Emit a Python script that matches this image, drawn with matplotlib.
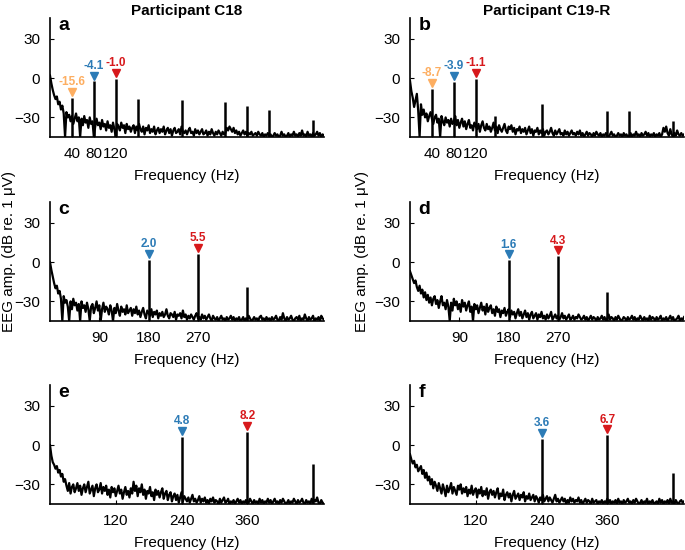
import matplotlib
matplotlib.use("Agg")
import matplotlib.pyplot as plt
import numpy as np

plt.rcParams['font.family'] = ['Liberation Sans', 'DejaVu Sans']

# frequency grid of the noise spectra (Hz), 2.5 Hz bins
freq = np.arange(0, 502.5, 2.5)

# noise floor (dB re. 1 uV), 20 bins per 50 Hz row
noise_a = [2, -4, -9, -13, -16, -14, -20, -18, -24, -21, -27, -45, -26, -30, -28, -33, -29, -35, -31, -27,
           -33, -30, -45, -31, -36, -29, -34, -32, -38, -30, -35, -33, -45, -37, -31, -36, -34, -39, -32, -37,
           -35, -40, -33, -38, -36, -41, -34, -39, -45, -35, -37, -40, -34, -38, -36, -42, -35, -39, -37, -41,
           -38, -36, -42, -37, -40, -35, -39, -41, -37, -43, -38, -40, -36, -42, -39, -41, -37, -43, -40, -38,
           -42, -39, -41, -37, -43, -40, -38, -42, -39, -44, -40, -38, -42, -41, -39, -43, -37, -41, -42, -40,
           -43, -40, -38, -42, -41, -44, -39, -42, -40, -43, -41, -39, -43, -42, -40, -44, -41, -43, -39, -42,
           -44, -41, -43, -40, -42, -44, -41, -43, -42, -38, -40, -37, -39, -41, -38, -42, -40, -43, -41, -44,
           -42, -40, -43, -41, -44, -42, -43, -41, -44, -43, -42, -44, -41, -43, -44, -42, -45, -43, -44, -42,
           -44, -43, -45, -44, -42, -44, -43, -45, -44, -41, -44, -43, -45, -44, -42, -45, -43, -44, -41, -44,
           -43, -45, -42, -44, -40, -44, -43, -45, -41, -44, -43, -45, -42, -44, -43, -41, -44, -42, -45, -43,
           -44]
noise_b = [-2, -10, -15, -22, -17, -12, -25, -45, -20, -28, -24, -30, -27, -33, -29, -26, -31, -35, -30, -28,
           -34, -31, -45, -29, -33, -36, -30, -34, -32, -37, -31, -35, -33, -29, -36, -32, -38, -34, -31, -37,
           -33, -39, -35, -32, -38, -36, -40, -34, -37, -39, -35, -41, -36, -33, -38, -40, -35, -39, -37, -41,
           -38, -34, -40, -37, -42, -36, -39, -41, -38, -35, -40, -42, -37, -39, -36, -41, -38, -43, -39, -40,
           -37, -42, -39, -41, -38, -43, -40, -37, -42, -39, -44, -40, -41, -38, -43, -40, -42, -39, -44, -41,
           -40, -43, -41, -38, -42, -44, -40, -43, -41, -39, -43, -42, -44, -40, -43, -41, -44, -42, -40, -43,
           -42, -44, -41, -43, -40, -44, -42, -45, -43, -41, -44, -42, -43, -45, -42, -44, -41, -43, -44, -42,
           -45, -43, -44, -42, -44, -45, -43, -41, -44, -43, -45, -44, -42, -44, -43, -45, -42, -44, -43, -45,
           -44, -42, -45, -43, -44, -41, -44, -43, -45, -42, -44, -43, -41, -44, -42, -45, -43, -44, -42, -45,
           -43, -44, -42, -45, -43, -38, -41, -37, -42, -44, -39, -43, -45, -42, -44, -40, -43, -44, -42, -44,
           -43]
noise_c = [0, -6, -11, -16, -20, -18, -24, -22, -28, -45, -26, -31, -29, -34, -45, -30, -36, -28, -33, -31,
           -37, -32, -45, -30, -35, -33, -38, -31, -36, -45, -34, -32, -39, -35, -30, -37, -33, -45, -36, -31,
           -38, -34, -36, -40, -33, -37, -45, -35, -39, -32, -37, -41, -34, -38, -36, -40, -33, -39, -37, -35,
           -41, -36, -39, -34, -40, -37, -42, -38, -35, -40, -43, -37, -39, -41, -36, -42, -38, -40, -37, -43,
           -39, -41, -38, -42, -40, -36, -41, -43, -39, -40, -42, -38, -44, -40, -41, -39, -43, -37, -42, -40,
           -44, -41, -43, -40, -42, -44, -41, -39, -43, -42, -44, -40, -43, -41, -44, -42, -40, -43, -45, -41,
           -43, -44, -42, -45, -43, -41, -44, -43, -45, -42, -44, -43, -41, -44, -42, -45, -43, -44, -42, -45,
           -44, -42, -45, -43, -44, -41, -43, -45, -44, -42, -44, -43, -45, -42, -41, -44, -43, -45, -42, -44,
           -43, -45, -42, -44, -43, -41, -44, -45, -42, -44, -39, -43, -45, -42, -44, -43, -41, -44, -45, -43,
           -42, -44, -41, -45, -43, -44, -40, -43, -45, -42, -44, -43, -41, -45, -43, -44, -42, -45, -41, -43,
           -44]
noise_d = [-7, -10, -13, -16, -14, -19, -22, -18, -24, -21, -27, -23, -29, -25, -31, -27, -33, -28, -26, -32,
           -29, -35, -30, -26, -33, -31, -36, -29, -34, -45, -31, -37, -28, -33, -30, -36, -32, -38, -29, -34,
           -31, -37, -33, -30, -38, -34, -45, -32, -36, -33, -39, -35, -31, -37, -34, -40, -32, -38, -35, -33,
           -39, -36, -41, -34, -38, -36, -42, -37, -39, -35, -41, -38, -36, -42, -37, -40, -38, -43, -39, -36,
           -41, -38, -43, -40, -37, -42, -39, -44, -40, -38, -43, -41, -39, -44, -40, -42, -38, -43, -41, -44,
           -40, -43, -41, -38, -44, -42, -40, -43, -41, -44, -42, -39, -43, -41, -44, -42, -40, -44, -43, -41,
           -44, -42, -43, -40, -42, -44, -43, -41, -44, -42, -45, -43, -41, -44, -42, -43, -45, -42, -44, -43,
           -41, -44, -42, -45, -43, -40, -44, -42, -43, -45, -42, -44, -41, -43, -45, -44, -42, -43, -45, -42,
           -44, -43, -41, -44, -42, -45, -43, -44, -41, -43, -45, -42, -44, -43, -45, -41, -44, -42, -43, -45,
           -42, -44, -43, -41, -45, -43, -44, -42, -45, -43, -41, -44, -42, -45, -44, -43, -41, -45, -43, -44,
           -42]
noise_e = [0, -8, -13, -15, -18, -16, -21, -19, -24, -22, -28, -26, -31, -35, -29, -37, -32, -30, -36, -33,
           -29, -35, -31, -38, -33, -30, -36, -32, -28, -37, -34, -31, -39, -33, -30, -36, -34, -29, -37, -32,
           -35, -31, -38, -34, -40, -32, -36, -33, -39, -35, -31, -37, -34, -41, -36, -32, -38, -35, -40, -33,
           -37, -28, -35, -31, -39, -33, -36, -30, -38, -34, -41, -35, -37, -32, -39, -36, -42, -34, -38, -35,
           -40, -36, -33, -41, -37, -35, -42, -38, -36, -43, -39, -37, -42, -38, -44, -40, -36, -43, -39, -41,
           -43, -40, -44, -41, -38, -43, -41, -44, -42, -39, -44, -41, -43, -40, -44, -42, -45, -41, -43, -40,
           -44, -42, -43, -45, -41, -44, -42, -40, -44, -43, -41, -45, -43, -44, -42, -45, -43, -41, -44, -42,
           -45, -43, -44, -42, -45, -44, -41, -43, -45, -42, -44, -43, -45, -41, -44, -42, -45, -43, -44, -41,
           -44, -42, -45, -43, -41, -44, -43, -45, -42, -44, -41, -43, -45, -44, -42, -45, -43, -44, -41, -43,
           -45, -42, -44, -43, -41, -44, -45, -42, -44, -43, -45, -41, -44, -42, -43, -40, -44, -45, -42, -44,
           -45]
noise_f = [-7, -11, -14, -12, -17, -15, -20, -18, -16, -22, -19, -25, -21, -27, -24, -30, -26, -33, -28, -31,
           -35, -29, -33, -37, -30, -34, -39, -31, -36, -33, -29, -37, -32, -35, -38, -31, -34, -30, -37, -33,
           -36, -32, -39, -34, -37, -31, -38, -35, -33, -40, -34, -37, -32, -39, -35, -38, -33, -41, -36, -34,
           -38, -35, -40, -36, -33, -41, -37, -39, -34, -42, -38, -36, -40, -37, -43, -38, -35, -41, -39, -37,
           -42, -38, -40, -36, -43, -39, -41, -37, -42, -40, -38, -43, -39, -41, -44, -40, -42, -38, -43, -41,
           -39, -43, -40, -42, -44, -41, -38, -43, -41, -44, -42, -40, -43, -41, -45, -42, -44, -40, -43, -41,
           -44, -42, -43, -40, -44, -42, -45, -43, -41, -44, -42, -43, -45, -41, -44, -43, -42, -45, -43, -44,
           -42, -45, -43, -44, -41, -44, -42, -45, -43, -44, -42, -45, -41, -44, -43, -45, -42, -44, -43, -41,
           -44, -43, -45, -42, -44, -41, -43, -45, -44, -42, -45, -43, -44, -41, -45, -43, -44, -42, -45, -44,
           -43, -45, -41, -44, -42, -45, -43, -44, -42, -45, -41, -44, -43, -45, -42, -44, -45, -43, -42, -44,
           -43]

# spectral peaks (Hz, dB)
peak_f_a = [40, 80, 120, 160, 240, 320, 360, 400, 480]
peak_db_a = [-15, -2.5, -0.3, -16, -17, -18.5, -21.5, -24.5, -32]
peak_f_b = [40, 80, 120, 155, 240, 360, 400, 480]
peak_db_b = [-8, -2.8, -0.3, -29, -19.5, -25.5, -25, -33]
peak_f_c = [180, 270, 360]
peak_db_c = [2, 6.4, -19]
peak_f_d = [180, 270, 360]
peak_db_d = [1.5, 4.6, -23]
peak_f_e = [240, 360, 480]
peak_db_e = [6.4, 10.2, -14.6]
peak_f_f = [240, 360, 480]
peak_db_f = [5, 7.7, -21]

# annotated peaks: frequency, label, colour
marks_a = [(40, '-15.6', 'orange'), (80, '-4.1', 'blue'), (120, '-1.0', 'red')]
marks_b = [(40, '-8.7', 'orange'), (80, '-3.9', 'blue'), (120, '-1.1', 'red')]
marks_c = [(180, '2.0', 'blue'), (270, '5.5', 'red')]
marks_d = [(180, '1.6', 'blue'), (270, '4.3', 'red')]
marks_e = [(240, '4.8', 'blue'), (360, '8.2', 'red')]
marks_f = [(240, '3.6', 'blue'), (360, '6.7', 'red')]

xticks_row = [[40, 80, 120], [90, 180, 270], [120, 240, 360]]
colours = {'orange': '#FDAE61', 'blue': '#2C7BB6', 'red': '#D7191C'}

panels = [
    ('a', noise_a, peak_f_a, peak_db_a, marks_a),
    ('b', noise_b, peak_f_b, peak_db_b, marks_b),
    ('c', noise_c, peak_f_c, peak_db_c, marks_c),
    ('d', noise_d, peak_f_d, peak_db_d, marks_d),
    ('e', noise_e, peak_f_e, peak_db_e, marks_e),
    ('f', noise_f, peak_f_f, peak_db_f, marks_f),
]

fig = plt.figure(figsize=(6.85, 5.5), dpi=100)
W, H = 685.0, 550.0
col_left = [50, 410]
row_top = [18, 202, 385]
ax_w, ax_h = 274, 119

for i, (lab, noise, pf, pdb, marks) in enumerate(panels):
    r, c = i // 2, i % 2
    ax = fig.add_axes([col_left[c] / W, 1 - (row_top[r] + ax_h) / H, ax_w / W, ax_h / H])
    ax.plot(freq[:len(noise)], noise, color='black', lw=1.6)
    ax.vlines(pf, -45, pdb, color='black', lw=1.8)
    for f, txt, col in marks:
        y = pdb[pf.index(f)] + 4.5
        ax.plot(f, y, marker='v', ms=6, color=colours[col], mec=colours[col])
        ax.annotate(txt, (f, y), xytext=(0, 2.5), textcoords='offset points',
                    ha='center', va='bottom', fontsize=8.5, fontweight='bold', color=colours[col])
    ax.set_xlim(0, 500)
    ax.set_ylim(-45, 46)
    ax.set_xticks(xticks_row[r])
    ax.set_yticks([-30, 0, 30])
    ax.tick_params(direction='in', length=3, width=0.8, labelsize=11, pad=7)
    for s in ['top', 'right']:
        ax.spines[s].set_visible(False)
    for s in ['left', 'bottom']:
        ax.spines[s].set_linewidth(1.2)
    ax.set_xlabel('Frequency (Hz)', fontsize=11, labelpad=6)
    ax.text(0.03, 1.01, lab, transform=ax.transAxes, fontsize=14, fontweight='bold',
            ha='left', va='top')
    if r == 0:
        ax.set_title(['Participant C18', 'Participant C19-R'][c], fontsize=11,
                     fontweight='bold', pad=2)
    if r == 1:
        ax.set_ylabel('EEG amp. (dB re. 1 μV)', fontsize=11)
        ax.yaxis.set_label_coords([-0.125, -0.15][c], 0.58)

fig.savefig('out.png', dpi=100)
